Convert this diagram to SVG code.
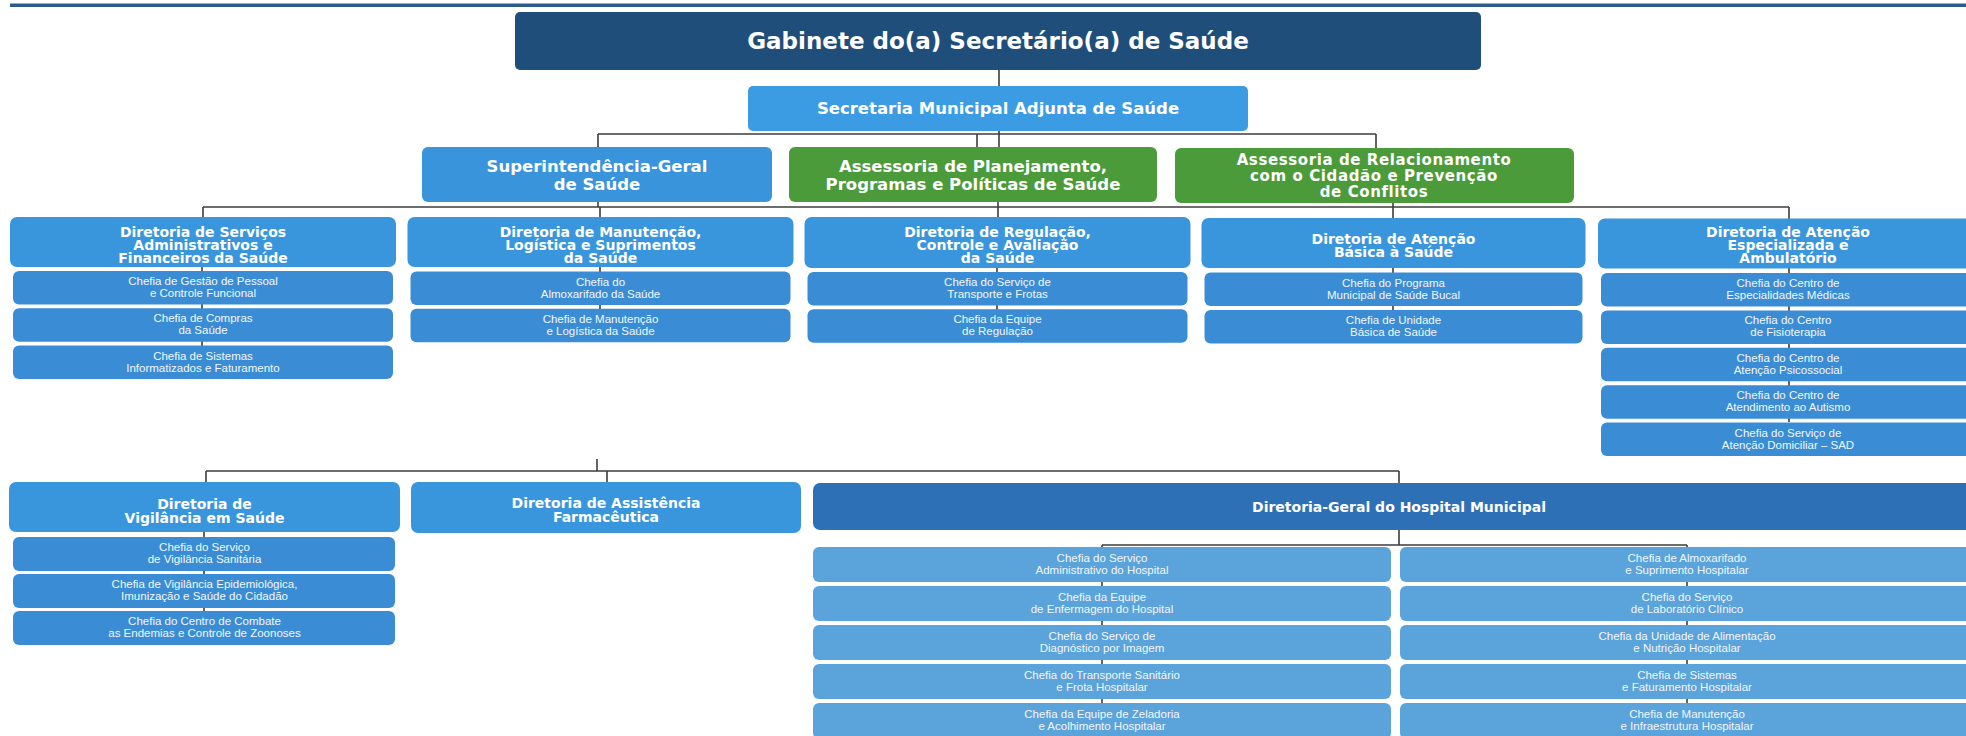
<svg xmlns="http://www.w3.org/2000/svg" width="1966" height="736" viewBox="0 0 1966 736">
<style>
.bg{fill:#ffffff}
.top{fill:#2a5b8a}
.gab{fill:#1f4e7a}
.sec{fill:#3b9be3}
.sup{fill:#3a94dc}
.grn{fill:#4b9b3a}
.dir{fill:#3996dd}
.chf{fill:#3a8dd5}
.hosp{fill:#2e70b6}
.hch{fill:#5ba3db}
.conn line,.conn polyline{stroke:#3c3c3c;stroke-width:1.6;fill:none}
.tb{font-family:"DejaVu Sans",Verdana,sans-serif;font-weight:bold;fill:#ffffff;text-anchor:middle}
.tc{font-family:"Liberation Sans",Arial,sans-serif;font-size:11.5px;fill:#f2f7fc;text-anchor:middle}
</style>
<rect class="bg" x="0" y="0" width="1966" height="736"/>
<rect class="top" x="10" y="3.5" width="1956" height="3.5"/>

<g id="connectors" class="conn">
  <line x1="999" y1="70" x2="999" y2="86"/>
  <line x1="999" y1="131" x2="999" y2="147"/>
  <line x1="598" y1="134" x2="1376" y2="134"/>
  <line x1="598" y1="134" x2="598" y2="147"/>
  <line x1="977" y1="134" x2="977" y2="147"/>
  <line x1="1376" y1="134" x2="1376" y2="148"/>
  <line x1="598" y1="202" x2="598" y2="207"/>
  <line x1="203" y1="207" x2="1789" y2="207"/>
  <line x1="203" y1="207" x2="203" y2="217"/>
  <line x1="600" y1="207" x2="600" y2="217"/>
  <line x1="998" y1="202" x2="998" y2="217"/>
  <line x1="1393" y1="203" x2="1393" y2="219"/>
  <line x1="1789" y1="207" x2="1789" y2="219"/>
  <line x1="202" y1="266" x2="202" y2="346"/>
  <line x1="600" y1="266" x2="600" y2="310"/>
  <line x1="997" y1="266" x2="997" y2="310"/>
  <line x1="1393" y1="266" x2="1393" y2="310"/>
  <line x1="1789" y1="266" x2="1789" y2="422"/>
  <line x1="597" y1="459" x2="597" y2="471"/>
  <line x1="206" y1="471" x2="1399" y2="471"/>
  <line x1="206" y1="471" x2="206" y2="482"/>
  <line x1="607" y1="471" x2="607" y2="482"/>
  <line x1="1399" y1="471" x2="1399" y2="483"/>
  <line x1="204" y1="530" x2="204" y2="611"/>
  <line x1="1399" y1="530" x2="1399" y2="545"/>
  <line x1="1102" y1="545" x2="1687" y2="545"/>
  <line x1="1102" y1="545" x2="1102" y2="736"/>
  <line x1="1687" y1="545" x2="1687" y2="736"/>
</g>

<g id="gabinete">
  <rect class="gab" x="515" y="12" width="966" height="58" rx="5"/>
  <text class="tb" x="998" y="49" font-size="23">Gabinete do(a) Secretário(a) de Saúde</text>
</g>
<g id="secretaria-adjunta">
  <rect class="sec" x="748" y="86" width="500" height="45" rx="5"/>
  <text class="tb" x="998" y="114" font-size="16.5">Secretaria Municipal Adjunta de Saúde</text>
</g>
<g id="superintendencia">
  <rect class="sup" x="422" y="147" width="350" height="55" rx="6"/>
  <text class="tb" font-size="16.5"><tspan x="597" y="172">Superintendência-Geral</tspan><tspan x="597" y="190">de Saúde</tspan></text>
</g>
<g id="assessoria-planejamento">
  <rect class="grn" x="789" y="147" width="368" height="55" rx="6"/>
  <text class="tb" font-size="16.5"><tspan x="973" y="172">Assessoria de Planejamento,</tspan><tspan x="973" y="190">Programas e Políticas de Saúde</tspan></text>
</g>
<g id="assessoria-relacionamento">
  <rect class="grn" x="1175" y="148" width="399" height="55" rx="6"/>
  <text class="tb" font-size="15" letter-spacing="0.6"><tspan x="1374" y="165">Assessoria de Relacionamento</tspan><tspan x="1374" y="181">com o Cidadão e Prevenção</tspan><tspan x="1374" y="197">de Conflitos</tspan></text>
</g>

<g id="dir-servicos">
  <rect class="dir" x="10" y="217" width="386" height="50" rx="7"/>
  <text class="tb" font-size="14"><tspan x="203" y="237">Diretoria de Serviços</tspan><tspan x="203" y="250">Administrativos e</tspan><tspan x="203" y="263">Financeiros da Saúde</tspan></text>
  <rect class="chf" x="13" y="271" width="380" height="33.5" rx="6"/>
  <text class="tc"><tspan x="203" y="285">Chefia de Gestão de Pessoal</tspan><tspan x="203" y="297">e Controle Funcional</tspan></text>
  <rect class="chf" x="13" y="308.3" width="380" height="33.5" rx="6"/>
  <text class="tc"><tspan x="203" y="322.3">Chefia de Compras</tspan><tspan x="203" y="334.3">da Saúde</tspan></text>
  <rect class="chf" x="13" y="345.6" width="380" height="33.5" rx="6"/>
  <text class="tc"><tspan x="203" y="359.6">Chefia de Sistemas</tspan><tspan x="203" y="371.6">Informatizados e Faturamento</tspan></text>
</g>
<g id="dir-manutencao">
  <rect class="dir" x="407.5" y="217" width="386" height="50" rx="7"/>
  <text class="tb" font-size="14"><tspan x="600.5" y="237">Diretoria de Manutenção,</tspan><tspan x="600.5" y="250">Logística e Suprimentos</tspan><tspan x="600.5" y="263">da Saúde</tspan></text>
  <rect class="chf" x="410.5" y="271.5" width="380" height="33.5" rx="6"/>
  <text class="tc"><tspan x="600.5" y="285.5">Chefia do</tspan><tspan x="600.5" y="297.5">Almoxarifado da Saúde</tspan></text>
  <rect class="chf" x="410.5" y="308.8" width="380" height="33.5" rx="6"/>
  <text class="tc"><tspan x="600.5" y="322.8">Chefia de Manutenção</tspan><tspan x="600.5" y="334.8">e Logística da Saúde</tspan></text>
</g>
<g id="dir-regulacao">
  <rect class="dir" x="804.5" y="217" width="386" height="51" rx="7"/>
  <text class="tb" font-size="14"><tspan x="997.5" y="237">Diretoria de Regulação,</tspan><tspan x="997.5" y="250">Controle e Avaliação</tspan><tspan x="997.5" y="263">da Saúde</tspan></text>
  <rect class="chf" x="807.5" y="272" width="380" height="33.5" rx="6"/>
  <text class="tc"><tspan x="997.5" y="286">Chefia do Serviço de</tspan><tspan x="997.5" y="298">Transporte e Frotas</tspan></text>
  <rect class="chf" x="807.5" y="309.3" width="380" height="33.5" rx="6"/>
  <text class="tc"><tspan x="997.5" y="323.3">Chefia da Equipe</tspan><tspan x="997.5" y="335.3">de Regulação</tspan></text>
</g>
<g id="dir-atencao-basica">
  <rect class="dir" x="1201.5" y="218" width="384" height="50" rx="7"/>
  <text class="tb" font-size="14"><tspan x="1393.5" y="244">Diretoria de Atenção</tspan><tspan x="1393.5" y="257">Básica à Saúde</tspan></text>
  <rect class="chf" x="1204.5" y="272.5" width="378" height="33.5" rx="6"/>
  <text class="tc"><tspan x="1393.5" y="286.5">Chefia do Programa</tspan><tspan x="1393.5" y="298.5">Municipal de Saúde Bucal</tspan></text>
  <rect class="chf" x="1204.5" y="310" width="378" height="33.5" rx="6"/>
  <text class="tc"><tspan x="1393.5" y="324">Chefia de Unidade</tspan><tspan x="1393.5" y="336">Básica de Saúde</tspan></text>
</g>
<g id="dir-atencao-especializada">
  <rect class="dir" x="1598" y="218.5" width="386" height="50" rx="7"/>
  <text class="tb" font-size="14"><tspan x="1788" y="237">Diretoria de Atenção</tspan><tspan x="1788" y="250">Especializada e</tspan><tspan x="1788" y="263">Ambulatório</tspan></text>
  <rect class="chf" x="1601" y="273" width="380" height="33.5" rx="6"/>
  <text class="tc"><tspan x="1788" y="287">Chefia do Centro de</tspan><tspan x="1788" y="299">Especialidades Médicas</tspan></text>
  <rect class="chf" x="1601" y="310.4" width="380" height="33.5" rx="6"/>
  <text class="tc"><tspan x="1788" y="324.4">Chefia do Centro</tspan><tspan x="1788" y="336.4">de Fisioterapia</tspan></text>
  <rect class="chf" x="1601" y="347.8" width="380" height="33.5" rx="6"/>
  <text class="tc"><tspan x="1788" y="361.8">Chefia do Centro de</tspan><tspan x="1788" y="373.8">Atenção Psicossocial</tspan></text>
  <rect class="chf" x="1601" y="385.2" width="380" height="33.5" rx="6"/>
  <text class="tc"><tspan x="1788" y="399.2">Chefia do Centro de</tspan><tspan x="1788" y="411.2">Atendimento ao Autismo</tspan></text>
  <rect class="chf" x="1601" y="422.6" width="380" height="33.5" rx="6"/>
  <text class="tc"><tspan x="1788" y="436.6">Chefia do Serviço de</tspan><tspan x="1788" y="448.6">Atenção Domiciliar – SAD</tspan></text>
</g>

<g id="dir-vigilancia">
  <rect class="dir" x="9" y="482" width="391" height="50" rx="7"/>
  <text class="tb" font-size="14"><tspan x="204.5" y="509">Diretoria de</tspan><tspan x="204.5" y="523">Vigilância em Saúde</tspan></text>
  <rect class="chf" x="13" y="537" width="382" height="34" rx="6"/>
  <text class="tc"><tspan x="204.5" y="551">Chefia do Serviço</tspan><tspan x="204.5" y="563">de Vigilância Sanitária</tspan></text>
  <rect class="chf" x="13" y="574" width="382" height="34" rx="6"/>
  <text class="tc"><tspan x="204.5" y="588">Chefia de Vigilância Epidemiológica,</tspan><tspan x="204.5" y="600">Imunização e Saúde do Cidadão</tspan></text>
  <rect class="chf" x="13" y="611" width="382" height="34" rx="6"/>
  <text class="tc"><tspan x="204.5" y="625">Chefia do Centro de Combate</tspan><tspan x="204.5" y="637">as Endemias e Controle de Zoonoses</tspan></text>
</g>
<g id="dir-farmaceutica">
  <rect class="dir" x="411" y="482" width="390" height="51" rx="7"/>
  <text class="tb" font-size="14"><tspan x="606" y="508">Diretoria de Assistência</tspan><tspan x="606" y="522">Farmacêutica</tspan></text>
</g>
<g id="dir-hospital">
  <rect class="hosp" x="813" y="483" width="1175" height="47" rx="7"/>
  <text class="tb" x="1399" y="512" font-size="14">Diretoria-Geral do Hospital Municipal</text>
</g>
<g id="hospital-chefias-esq">
  <rect class="hch" x="813" y="547" width="578" height="35" rx="6"/>
  <text class="tc"><tspan x="1102" y="562">Chefia do Serviço</tspan><tspan x="1102" y="574">Administrativo do Hospital</tspan></text>
  <rect class="hch" x="813" y="586" width="578" height="35" rx="6"/>
  <text class="tc"><tspan x="1102" y="601">Chefia da Equipe</tspan><tspan x="1102" y="613">de Enfermagem do Hospital</tspan></text>
  <rect class="hch" x="813" y="625" width="578" height="35" rx="6"/>
  <text class="tc"><tspan x="1102" y="640">Chefia do Serviço de</tspan><tspan x="1102" y="652">Diagnóstico por Imagem</tspan></text>
  <rect class="hch" x="813" y="664" width="578" height="35" rx="6"/>
  <text class="tc"><tspan x="1102" y="679">Chefia do Transporte Sanitário</tspan><tspan x="1102" y="691">e Frota Hospitalar</tspan></text>
  <rect class="hch" x="813" y="703" width="578" height="36" rx="6"/>
  <text class="tc"><tspan x="1102" y="718">Chefia da Equipe de Zeladoria</tspan><tspan x="1102" y="730">e Acolhimento Hospitalar</tspan></text>
</g>
<g id="hospital-chefias-dir">
  <rect class="hch" x="1400" y="547" width="580" height="35" rx="6"/>
  <text class="tc"><tspan x="1687" y="562">Chefia de Almoxarifado</tspan><tspan x="1687" y="574">e Suprimento Hospitalar</tspan></text>
  <rect class="hch" x="1400" y="586" width="580" height="35" rx="6"/>
  <text class="tc"><tspan x="1687" y="601">Chefia do Serviço</tspan><tspan x="1687" y="613">de Laboratório Clínico</tspan></text>
  <rect class="hch" x="1400" y="625" width="580" height="35" rx="6"/>
  <text class="tc"><tspan x="1687" y="640">Chefia da Unidade de Alimentação</tspan><tspan x="1687" y="652">e Nutrição Hospitalar</tspan></text>
  <rect class="hch" x="1400" y="664" width="580" height="35" rx="6"/>
  <text class="tc"><tspan x="1687" y="679">Chefia de Sistemas</tspan><tspan x="1687" y="691">e Faturamento Hospitalar</tspan></text>
  <rect class="hch" x="1400" y="703" width="580" height="36" rx="6"/>
  <text class="tc"><tspan x="1687" y="718">Chefia de Manutenção</tspan><tspan x="1687" y="730">e Infraestrutura Hospitalar</tspan></text>
</g>
</svg>
